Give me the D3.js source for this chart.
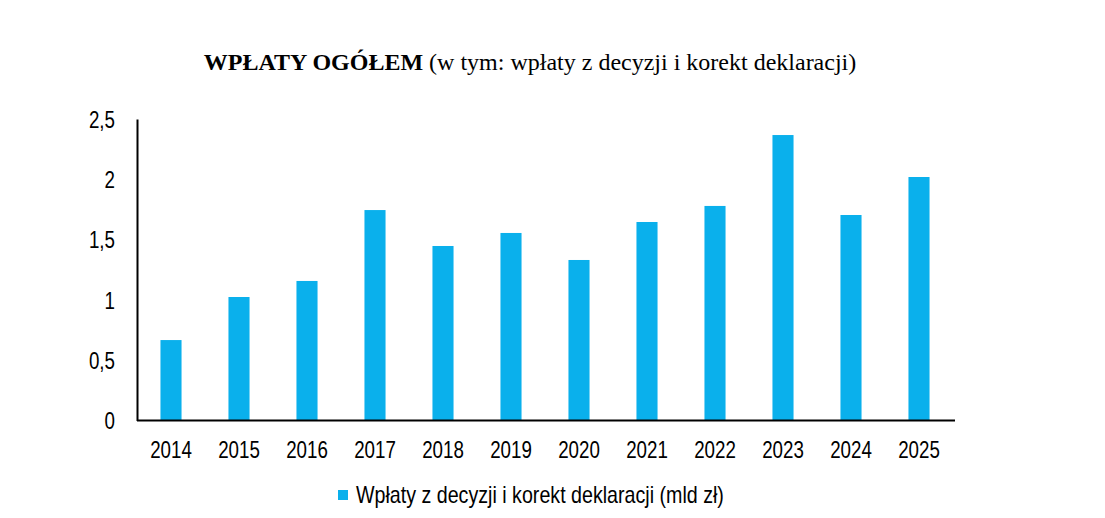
<!DOCTYPE html>
<html>
<head>
<meta charset="utf-8">
<script src="https://cdn.jsdelivr.net/npm/d3@7"></script>
<style>
  body { margin: 0; background: #fff; }
  svg { display: block; }
  .lbl { font-family: "Liberation Sans", Arial, sans-serif; font-size: 23px; fill: #000; }
</style>
</head>
<body>
<svg class="chart" width="1105" height="518"></svg>
<script>
const years = ['2014', '2015', '2016', '2017', '2018', '2019', '2020', '2021', '2022', '2023', '2024', '2025'];
const wplaty = [0.667, 1.024, 1.157, 1.745, 1.447, 1.555, 1.331, 1.646, 1.779, 2.367, 1.704, 2.019];
const yTicks = [0, 0.5, 1, 1.5, 2, 2.5];
const seriesName = 'Wpłaty z decyzji i korekt deklaracji (mld zł)';
const titleBold = 'WPŁATY OGÓŁEM';
const titleRest = ' (w tym: wpłaty z decyzji i korekt deklaracji)';

const barColor = '#0AB0EC';
const squeeze = 0.815; // labels are narrower than plain Arial

const svg = d3.select('.chart');

const x = d3.scaleBand().domain(years).range([137, 953]).paddingInner(0.69).paddingOuter(0.345);
const y = d3.scaleLinear().domain([0, 2.5]).range([420.5, 119]);

// title
const title = svg.append('text')
  .attr('x', 530)
  .attr('y', 70)
  .attr('text-anchor', 'middle')
  .style('font-family', '"Liberation Serif", "Times New Roman", serif')
  .style('font-size', '24px');
title.append('tspan').style('font-weight', 'bold').text(titleBold);
title.append('tspan').text(titleRest);

// bars
svg.append('g')
  .selectAll('rect')
  .data(wplaty)
  .enter().append('rect')
    .attr('x', (d, i) => x(years[i]))
    .attr('y', d => y(d))
    .attr('width', x.bandwidth())
    .attr('height', d => y(0) - y(d))
    .attr('fill', barColor);

// axes
const yAxis = svg.append('g')
  .attr('transform', 'translate(137,0)')
  .call(d3.axisLeft(y).tickValues(yTicks).tickSize(0).tickPadding(0)
    .tickFormat(d => d3.format('~g')(d).replace('.', ',')));
yAxis.select('.domain').attr('stroke', '#000').attr('stroke-width', 2);
yAxis.selectAll('.tick text')
  .attr('class', 'lbl')
  .attr('x', null)
  .attr('dy', null)
  .attr('dominant-baseline', 'central')
  .attr('text-anchor', 'end')
  .attr('transform', `translate(-22,0) scale(${squeeze},1)`);

const xAxis = svg.append('g')
  .attr('transform', `translate(0,${y(0)})`)
  .call(d3.axisBottom(x).tickSize(0).tickPadding(0));
xAxis.select('.domain').attr('stroke', '#000').attr('stroke-width', 2)
  .attr('d', 'M137,0H955');
xAxis.selectAll('.tick text')
  .attr('class', 'lbl')
  .attr('y', null)
  .attr('dy', null)
  .attr('text-anchor', 'middle')
  .attr('transform', `translate(0,37) scale(${squeeze},1)`);

// legend
const legend = svg.append('g').attr('transform', 'translate(338,490)');
legend.append('rect').attr('width', 10).attr('height', 10).attr('fill', barColor);
legend.append('text')
  .attr('class', 'lbl')
  .attr('transform', 'translate(18,13) scale(0.855,1)')
  .text(seriesName);
</script>
</body>
</html>
